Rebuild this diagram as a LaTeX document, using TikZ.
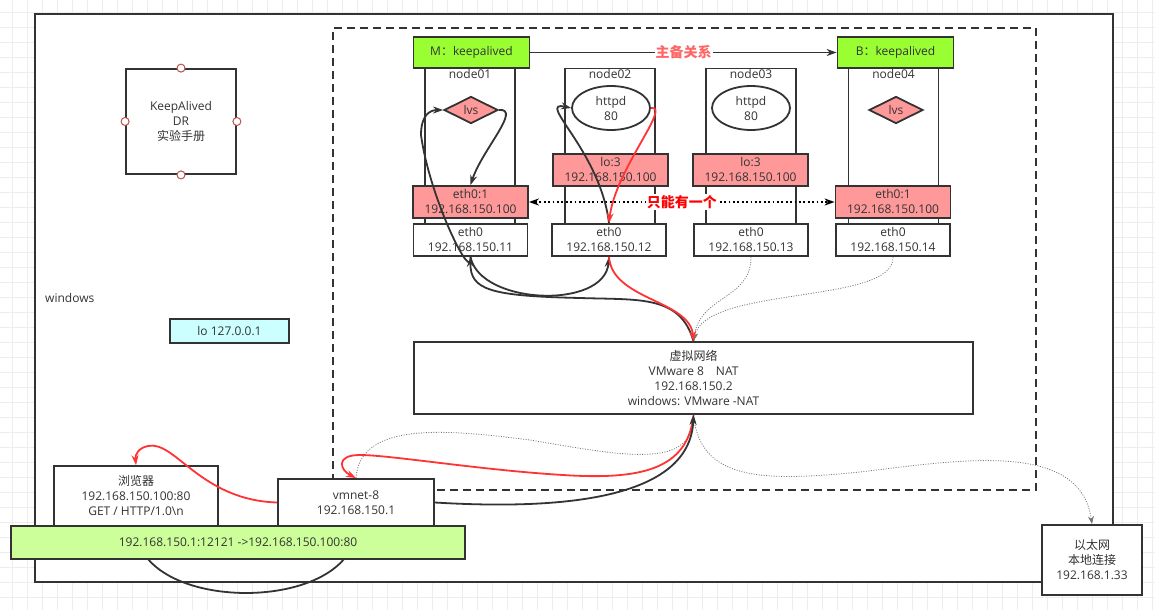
\documentclass[tikz,border=0pt]{standalone}
\usepackage{fontspec}
\setmainfont{Open Sans}
\newfontfamily\cjk{Noto Sans CJK SC}
\usetikzlibrary{shapes.geometric, arrows.meta, positioning}
\definecolor{linegray}{HTML}{333333}
\definecolor{txtgray}{HTML}{333333}
\definecolor{gridgray}{HTML}{EDEDED}
\definecolor{kagreen}{HTML}{99FF33}
\definecolor{ifpink}{HTML}{FF9999}
\definecolor{locyan}{HTML}{CCFFFF}
\definecolor{barlime}{HTML}{CCFF99}
\definecolor{flowred}{HTML}{FF3333}
\definecolor{hbred}{HTML}{FF6666}
\definecolor{notered}{HTML}{FF0000}
\definecolor{hintgray}{HTML}{777777}
\definecolor{portred}{HTML}{B85450}
\tikzset{
    basebox/.style={rectangle, draw=linegray, line width=1.8pt, fill=white, text=txtgray, font=\fontsize{12}{15}\selectfont, align=center, inner sep=0pt},
    framebox/.style={basebox, fill=none},
    greenbox/.style={basebox, fill=kagreen, minimum width=116pt, minimum height=31pt},
    hostbox/.style={basebox, minimum width=90pt, minimum height=156pt},
    ifbox/.style={basebox, fill=ifpink, minimum width=115pt, minimum height=32pt},
    ethbox/.style={basebox, minimum width=114pt, minimum height=32pt},
    lvsnode/.style={basebox, diamond, fill=ifpink, minimum width=54pt, minimum height=27pt},
    httpnode/.style={basebox, ellipse, minimum width=78pt, minimum height=44pt},
    portnode/.style={circle, draw=portred, fill=white, line width=1pt, minimum size=8pt, inner sep=0pt},
    hostlabel/.style={text=txtgray, font=\fontsize{12}{15}\selectfont, inner sep=2pt},
    note/.style={fill=white, inner sep=1pt, font=\fontsize{14}{16}\selectfont\cjk\bfseries},
    flow/.style={draw=linegray, line width=1.8pt, -{Stealth[length=10pt,width=7pt]}},
    backflow/.style={flow, draw=flowred},
    hint/.style={draw=hintgray, line width=0.8pt, dash pattern=on 1pt off 1.5pt, -{Stealth[length=8pt,width=6pt]}}
}
\begin{document}
\begin{tikzpicture}[x=1pt, y=-1pt]
        % Canvas
        \useasboundingbox (0,0) rectangle (1155,610);
        \begin{scope}[shift={(12,12)}]
            \draw[gridgray, line width=0.8pt, step=15pt] (-12,-12) grid (1143,598);
        \end{scope}

        % Frames
        \node (windows) [basebox, minimum width=1078pt, minimum height=568pt] at (574,298) {};
        \node (vmware) [framebox, dash pattern=on 8pt off 5pt, minimum width=703pt, minimum height=462pt] at (684.5,259) {};
        \node (winlabel) [hostlabel, anchor=west, inner sep=0pt] at (45,298) {windows};

        % Hosts
        \node (node01) [hostbox, label={[hostlabel, anchor=north]north:node01}] at (470,146) {};
        \node (node02) [hostbox, label={[hostlabel, anchor=north]north:node02}] at (610,146.5) {};
        \node (node03) [hostbox, label={[hostlabel, anchor=north]north:node03}] at (751,146.5) {};
        \node (node04) [hostbox, label={[hostlabel, anchor=north]north:node04}] at (893.5,146) {};

        \node (master) [greenbox] at (471.5,52.5) {M{\cjk ：}keepalived};
        \node (backup) [greenbox] at (895.5,52.5) {B{\cjk ：}keepalived};

        \node (lvs01) [lvsnode] at (471,110) {lvs};
        \node (lvs04) [lvsnode] at (896,110) {lvs};
        \node (httpd02) [httpnode] at (611,108) {httpd\\80};
        \node (httpd03) [httpnode] at (751,108) {httpd\\80};

        \node (lo02) [ifbox] at (610.5,170) {lo:3\\192.168.150.100};
        \node (lo03) [ifbox] at (750.5,170) {lo:3\\192.168.150.100};
        \node (vip01) [ifbox] at (470.5,202) {eth0:1\\192.168.150.100};
        \node (vip04) [ifbox] at (893,202) {eth0:1\\192.168.150.100};

        \node (eth01) [ethbox] at (470.5,240) {eth0\\192.168.150.11};
        \node (eth02) [ethbox] at (609,240) {eth0\\192.168.150.12};
        \node (eth03) [ethbox] at (751,240) {eth0\\192.168.150.13};
        \node (eth04) [ethbox] at (893,240) {eth0\\192.168.150.14};

        % Windows side
        \node (manual) [basebox, minimum width=110pt, minimum height=105pt] at (181,121.5) {KeepAlived\\DR\\{\cjk 实验手册}};
        \foreach \side in {north,south,east,west}
            \node (port-\side) [portnode] at (manual.\side) {};
        \node (loopback) [basebox, fill=locyan, minimum width=119pt, minimum height=24pt] at (229.5,331) {lo 127.0.0.1};
        \node (vnet) [basebox, minimum width=559pt, minimum height=72pt] at (693.5,378) {{\cjk 虚拟网络}\\VMware 8\hspace{12pt}NAT\\192.168.150.2\\windows: VMware -NAT};
        \node (browser) [basebox, minimum width=164pt, minimum height=60pt] at (136,496) {{\cjk 浏览器}\\192.168.150.100:80\\GET / HTTP/1.0\textbackslash n};
        \node (vmnet) [basebox, minimum width=156pt, minimum height=47pt] at (356,502.5) {vmnet-8\\192.168.150.1};
        \draw [line width=1.8pt, draw=linegray] (browser.south) .. controls (136,615) and (356,615) .. (vmnet.south);
        \node (socket) [basebox, fill=barlime, minimum width=454pt, minimum height=33pt] at (238,542.5) {192.168.150.1:12121 ->192.168.150.100:80};
        \node (ether) [basebox, minimum width=100pt, minimum height=70pt] at (1092,560) {{\cjk 以太网}\\{\cjk 本地连接}\\192.168.1.33};

        % Connections
        \draw [flow] (master) -- node (hb) [note, text=hbred] {主备关系} (backup);
        \draw [draw=black, line width=1.8pt, dash pattern=on 1.8pt off 2.6pt, {Stealth[length=10pt,width=7pt]}-{Stealth[length=10pt,width=7pt]}] (vip01) -- node (onlyone) [note, text=notered] {只能有一个} (vip04);

        \draw [hint] (eth03.south) .. controls (751,300) and (700,295) .. (vnet.north);
        \draw [hint] (eth04.south) .. controls (895,305) and (705,285) .. (vnet.north);
        \draw [hint] (vmnet.north) .. controls (360,420) and (450,430) .. (530,440) .. controls (620,455) and (690,470) .. (vnet.south);
        \draw [hint] (vnet.south) .. controls (700,480) and (760,482) .. (860,472) .. controls (960,460) and (1080,440) .. (ether.north);

        \draw [flow] (vnet.north) .. controls (680,295) and (640,300) .. (580,298) .. controls (490,296) and (470,290) .. (eth01.south);
        \draw [flow] (eth01.south) .. controls (473,285) and (430,200) .. (421,135) .. controls (421,115) and (430,110) .. (lvs01.west);
        \draw [flow] (lvs01.east) .. controls (522,108) and (482,150) .. (vip01.north);
        \draw [flow] (eth01.south) .. controls (480,305) and (605,310) .. (eth02.south);
        \draw [flow] (eth02.north) .. controls (600,150) and (535,100) .. (httpd02.west);
        \draw [backflow] (httpd02.east) .. controls (672,105) and (615,170) .. (eth02.north);
        \draw [backflow] (eth02.south) .. controls (612,300) and (690,300) .. (vnet.north);
        \draw [backflow] (vnet.south) .. controls (688,470) and (640,480) .. (563,475) .. controls (480,470) and (390,455) .. (360,455) .. controls (335,455) and (340,470) .. (vmnet.north);
        \draw [backflow] (vmnet.west) .. controls (200,500) and (175,440) .. (148,446) .. controls (138,448) and (135,455) .. (browser.north);
        \draw [flow] (vmnet.east) .. controls (560,510) and (690,500) .. (vnet.south);
    \end{tikzpicture}
\end{document}
